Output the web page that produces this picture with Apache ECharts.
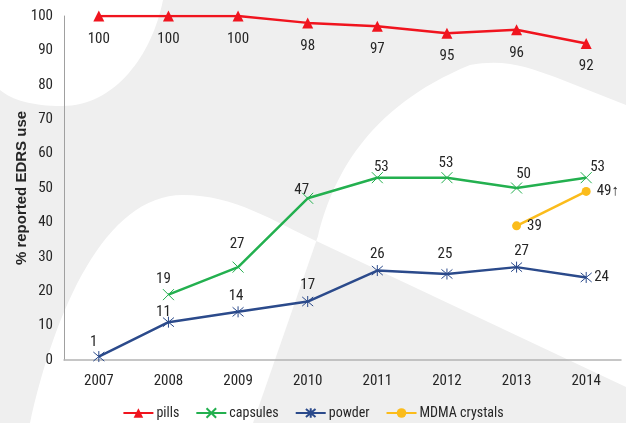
<!DOCTYPE html>
<html>
<head>
<meta charset="utf-8">
<script src="https://cdn.jsdelivr.net/npm/echarts@6/dist/echarts.min.js"></script>
<style>
  html, body { margin: 0; padding: 0; background: #efefef; }
  #chart { width: 626px; height: 423px; }
</style>
</head>
<body>
<div id="chart"></div>
<script>
// data
const years = ['2007', '2008', '2009', '2010', '2011', '2012', '2013', '2014']
const pills = [100, 100, 100, 98, 97, 95, 96, 92]
const capsules = [null, 19, 27, 47, 53, 53, 50, 53]
const powder = [1, 11, 14, 17, 26, 25, 27, 24]
const mdma = [null, null, null, null, null, null, 39, 49]
const mdmaLastSuffix = '↑'

const FONT = "'Roboto Condensed', 'Liberation Sans', sans-serif"

// where each value label sits relative to its point
const lbl = (position, dx = 0, dy = 0) => ({ position, offset: [dx, dy] })
const capsulesLabels = [null, lbl('top', -5), lbl('top', -1, -7), lbl('top', -6, 7), lbl('top', 4, 5), lbl('top', -1, 1), lbl('top', 7, 2), lbl('right', -4, -10)]
const powderLabels = [lbl('top', -5, 1), lbl('top', -5, 6), lbl('top', -2), lbl('top', 0, -1), lbl('top', 0, -1), lbl('top', -2, -4), lbl('top', 5), lbl('right')]
const mdmaLabels = [null, null, null, null, null, null, lbl('right'), lbl('right')]

const toItems = (values, labels) => values.map((v, i) =>
  v == null ? null : { value: v, label: labels[i] || {} })

// decorative background swooshes
const swooshes = {
  swooshTL: 'M0 0 L163 0 C152 55 115 106 62 106 C32 106 12 100 0 90 Z',
  swooshHump: 'M30 423 C55 310 105 195 183 195 C235 195 275 222 316 241 L626 387 L626 423 Z',
  swooshArch: 'M253 423 L318 236 C332 180 365 108 470 65 C505 58 530 68 555 77 L626 105 L626 423 Z',
  swooshOverlap: 'M316.3 241 L253 423 L626 423 L626 387 Z'
}
Object.keys(swooshes).forEach(k => {
  echarts.graphic.registerShape(k, echarts.graphic.extendPath(swooshes[k], {}))
})

const chart = echarts.init(document.getElementById('chart'))

const labelBase = {
  show: true,
  fontFamily: FONT,
  fontSize: 15,
  color: '#262626'
}

const crossPath = 'path://M0,0L10,10M10,0L0,10'
const starPath = 'path://M0,0L10,10M10,0L0,10M5,-1L5,11'

const option = {
  animation: false,
  backgroundColor: 'transparent',
  graphic: [
    { type: 'swooshTL', z: -10, silent: true, style: { fill: '#ffffff' } },
    { type: 'swooshHump', z: -10, silent: true, style: { fill: '#ffffff' } },
    { type: 'swooshArch', z: -10, silent: true, style: { fill: '#ffffff' } },
    { type: 'swooshOverlap', z: -9, silent: true, style: { fill: '#efefef' } }
  ],
  grid: {
    left: 64,
    right: 5,
    top: 16,
    bottom: 63,
    outerBoundsMode: 'none'
  },
  legend: {
    top: 401,
    left: 'center',
    itemWidth: 30,
    itemHeight: 12,
    itemGap: 16,
    textStyle: { fontFamily: FONT, fontSize: 14, color: '#262626', padding: [0, 0, 0, -2] },
    data: ['pills', 'capsules', 'powder', 'MDMA crystals']
  },
  xAxis: {
    type: 'category',
    data: years,
    boundaryGap: true,
    axisLine: { lineStyle: { color: '#b4b4b4', width: 1.5 } },
    axisTick: { show: false },
    axisLabel: { fontFamily: FONT, fontSize: 15, color: '#262626', margin: 14 }
  },
  yAxis: {
    type: 'value',
    min: 0,
    max: 100,
    interval: 10,
    name: '% reported EDRS use',
    nameLocation: 'middle',
    nameGap: 35,
    nameMoveOverlap: false,
    nameTextStyle: { fontFamily: "'Liberation Sans', Arial, sans-serif", fontSize: 15, fontWeight: 'bold', color: '#262626' },
    axisLine: { show: true, lineStyle: { color: '#a0a0a0', width: 1 } },
    axisTick: { show: false },
    splitLine: { show: false },
    axisLabel: { fontFamily: FONT, fontSize: 15, color: '#262626', margin: 11 }
  },
  series: [
    {
      name: 'pills',
      type: 'line',
      data: pills,
      symbol: 'triangle',
      symbolSize: 11,
      lineStyle: { color: '#f0141e', width: 2.5 },
      itemStyle: { color: '#f0141e' },
      label: { ...labelBase, position: 'bottom', distance: 10 }
    },
    {
      name: 'capsules',
      type: 'line',
      data: toItems(capsules, capsulesLabels),
      symbol: crossPath,
      symbolSize: 11,
      lineStyle: { color: '#23b04f', width: 2.5 },
      itemStyle: { color: '#23b04f', borderColor: '#23b04f', borderWidth: 1 },
      label: { ...labelBase, distance: 2 }
    },
    {
      name: 'powder',
      type: 'line',
      data: toItems(powder, powderLabels),
      symbol: starPath,
      symbolSize: 11,
      lineStyle: { color: '#2b4a8b', width: 2.5 },
      itemStyle: { color: '#2b4a8b', borderColor: '#2b4a8b', borderWidth: 1 },
      label: { ...labelBase, distance: 2 }
    },
    {
      name: 'MDMA crystals',
      type: 'line',
      data: toItems(mdma, mdmaLabels),
      symbol: 'circle',
      symbolSize: 9,
      lineStyle: { color: '#fbbc1b', width: 2.5 },
      itemStyle: { color: '#fbbc1b' },
      label: {
        ...labelBase,
        distance: 6,
        formatter: (p) => p.dataIndex === mdma.length - 1 ? p.value + mdmaLastSuffix : String(p.value)
      }
    }
  ]
}

chart.setOption(option)

window.addEventListener('resize', () => chart.resize())
</script>
</body>
</html>
